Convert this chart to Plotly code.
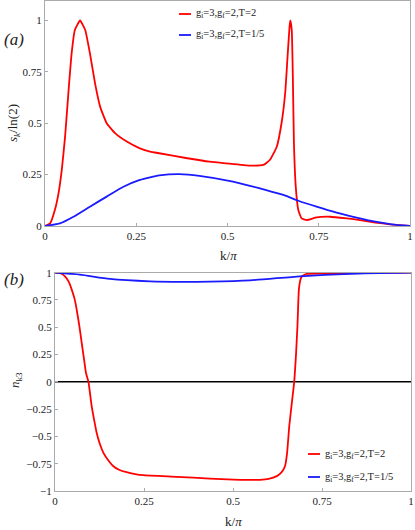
import plotly.graph_objects as go

# panel (a): entropy s_k/ln(2) versus k/pi
k_a_red = [0, 0.014, 0.027, 0.037, 0.046, 0.055, 0.064, 0.073, 0.082, 0.096, 0.11, 0.123,
           0.137, 0.151, 0.169, 0.192, 0.224, 0.26, 0.288, 0.313, 0.386, 0.451, 0.496,
           0.562, 0.598, 0.616, 0.635, 0.648, 0.658, 0.664, 0.67, 0.672, 0.676, 0.679,
           0.682, 0.687, 0.694, 0.703, 0.717, 0.744, 0.781, 0.827, 0.863, 0.905, 0.945, 1.0]
s_red = [0, 0.013, 0.078, 0.159, 0.273, 0.435, 0.646, 0.841, 0.955, 1.0, 0.955, 0.841,
         0.695, 0.581, 0.5, 0.452, 0.411, 0.378, 0.362, 0.354, 0.331, 0.313, 0.305,
         0.294, 0.297, 0.321, 0.386, 0.5, 0.646, 0.809, 0.971, 1.0, 0.955, 0.727,
         0.403, 0.191, 0.078, 0.037, 0.029, 0.042, 0.045, 0.037, 0.029, 0.017, 0.008, 0]
k_a_blue = [0, 0.041, 0.078, 0.123, 0.169, 0.215, 0.26, 0.288, 0.313, 0.368, 0.423, 0.515,
            0.562, 0.606, 0.653, 0.694, 0.744, 0.799, 0.863, 0.905, 0.95, 1.0]
s_blue = [0, 0.013, 0.045, 0.094, 0.143, 0.191, 0.224, 0.237, 0.246, 0.252, 0.244, 0.216,
          0.195, 0.175, 0.151, 0.123, 0.094, 0.065, 0.037, 0.021, 0.008, 0]

# panel (b): n_k3 versus k/pi
k_b_red = [0, 0.015, 0.028, 0.038, 0.047, 0.055, 0.061, 0.068, 0.075, 0.081, 0.087, 0.094,
           0.103, 0.11, 0.117, 0.126, 0.136, 0.15, 0.164, 0.18, 0.201, 0.225, 0.248, 0.342,
           0.435, 0.501, 0.576, 0.6, 0.623, 0.636, 0.646, 0.652, 0.658, 0.665, 0.672, 0.677,
           0.681, 0.685, 0.689, 0.693, 0.707, 0.75, 0.85, 1.0]
n_red = [1, 0.995, 0.967, 0.92, 0.845, 0.76, 0.66, 0.52, 0.357, 0.22, 0.082, 0,
         -0.223, -0.35, -0.467, -0.57, -0.65, -0.72, -0.773, -0.805, -0.828, -0.845, -0.855, -0.87,
         -0.886, -0.895, -0.898, -0.89, -0.864, -0.83, -0.773, -0.65, -0.407, -0.2, 0, 0.25,
         0.51, 0.845, 0.93, 0.967, 0.99, 0.993, 0.997, 1]
k_b_blue = [0, 0.07, 0.154, 0.267, 0.36, 0.435, 0.548, 0.688, 0.829, 1.0]
n_blue = [1, 0.982, 0.943, 0.921, 0.916, 0.918, 0.93, 0.967, 0.99, 1]

legend_names = ["g<sub>i</sub>=3,g<sub>f</sub>=2,T=2", "g<sub>i</sub>=3,g<sub>f</sub>=2,T=1/5"]
ticks_x = [0, 0.25, 0.5, 0.75, 1]
ticks_x_text = ["0", "0.25", "0.5", "0.75", "1"]
ticks_ya = [0, 0.25, 0.5, 0.75, 1]
ticks_yb = [-1, -0.75, -0.5, -0.25, 0, 0.25, 0.5, 0.75, 1]
ticks_yb_text = ["\u22121", "\u22120.75", "\u22120.5", "\u22120.25", "0", "0.25", "0.5", "0.75", "1"]

RED = "#ff0000"
BLUE = "#1a1aff"
FRAME = "#aaaaaa"
FONT = "'Liberation Serif', 'Times New Roman', serif"
W, H = 415, 530

fig = go.Figure()
fig.add_trace(go.Scatter(x=k_a_red, y=s_red, mode="lines", line=dict(color=RED, width=1.8, shape="spline", smoothing=0.4),
                         name="T=2", showlegend=False, xaxis="x", yaxis="y"))
fig.add_trace(go.Scatter(x=k_a_blue, y=s_blue, mode="lines", line=dict(color=BLUE, width=1.8, shape="spline", smoothing=0.6),
                         name="T=1/5", showlegend=False, xaxis="x", yaxis="y"))
fig.add_trace(go.Scatter(x=[0, 1], y=[0, 0], mode="lines", line=dict(color="black", width=1.5),
                         showlegend=False, hoverinfo="skip", xaxis="x2", yaxis="y2"))
fig.add_trace(go.Scatter(x=k_b_red, y=n_red, mode="lines", line=dict(color=RED, width=1.8, shape="spline", smoothing=0.4),
                         name="T=2", showlegend=False, xaxis="x2", yaxis="y2"))
fig.add_trace(go.Scatter(x=k_b_blue, y=n_blue, mode="lines", line=dict(color=BLUE, width=1.8, shape="spline", smoothing=0.6),
                         name="T=1/5", showlegend=False, xaxis="x2", yaxis="y2"))

axis_common = dict(showgrid=False, zeroline=False, showline=True, mirror=True, linecolor=FRAME, linewidth=1,
                   automargin=False, ticks="inside", ticklen=3, tickcolor=FRAME,
                   tickfont=dict(family=FONT, size=11, color="#222"))

fig.update_layout(
    template="none",
    width=W, height=H,
    margin=dict(l=0, r=0, t=0, b=0, autoexpand=False),
    plot_bgcolor="white", paper_bgcolor="white",
    font=dict(family=FONT),
    xaxis=dict(domain=[45 / W, 410 / W], range=[0, 1], tickvals=ticks_x, ticktext=ticks_x_text, anchor="y", **axis_common),
    yaxis=dict(domain=[1 - 226 / H, 1 - 1 / H], range=[0, 1.095], tickvals=ticks_ya, ticktext=ticks_x_text, anchor="x", **axis_common),
    xaxis2=dict(domain=[55 / W, 411 / W], range=[0, 1], tickvals=ticks_x, ticktext=ticks_x_text, anchor="y2", **axis_common),
    yaxis2=dict(domain=[1 - 491 / H, 1 - 272.7 / H], range=[-1, 1], tickvals=ticks_yb, ticktext=ticks_yb_text, anchor="x2", **axis_common),
)

annotations = [
    dict(text="<i>(a)</i>", x=14 / W, y=1 - 40 / H, font=dict(size=17)),
    dict(text="<i>(b)</i>", x=14 / W, y=1 - 279 / H, font=dict(size=17)),
    dict(text="<i>s</i><sub><i>k</i></sub>/ln(2)", x=13 / W, y=1 - 123 / H, textangle=-90, font=dict(size=13)),
    dict(text="<i>n</i><sub>k3</sub>", x=15 / W, y=1 - 380 / H, textangle=-90, font=dict(size=13)),
    dict(text="k/<i>\u03c0</i>", x=228 / W, y=1 - 255 / H, font=dict(size=13)),
    dict(text="k/<i>\u03c0</i>", x=233 / W, y=1 - 521 / H, font=dict(size=13)),
]
# legends drawn by hand: short line + label
legend_spots = [(179, 14, RED, 0), (179, 35, BLUE, 1), (308, 454, RED, 0), (308, 477, BLUE, 1)]
for lx, ly, col, i in legend_spots:
    fig.add_shape(type="line", xref="paper", yref="paper", x0=lx / W, x1=(lx + 12) / W,
                  y0=1 - ly / H, y1=1 - ly / H, line=dict(color=col, width=1.8))
    annotations.append(dict(text=legend_names[i], x=(lx + 15) / W, y=1 - ly / H, xanchor="left",
                            font=dict(size=10.5)))
for a in annotations:
    a.setdefault("xanchor", "center")
    a.update(xref="paper", yref="paper", yanchor="middle", showarrow=False)
    a["font"] = dict(family=FONT, color="#222", **a["font"])
fig.update_layout(annotations=annotations)

# the page body has a default 8px margin; drop it so the figure fills the window
fig.write_html("out.html", config={"displayModeBar": False},
               post_script="document.body.style.margin='0';document.body.style.overflow='hidden';")
